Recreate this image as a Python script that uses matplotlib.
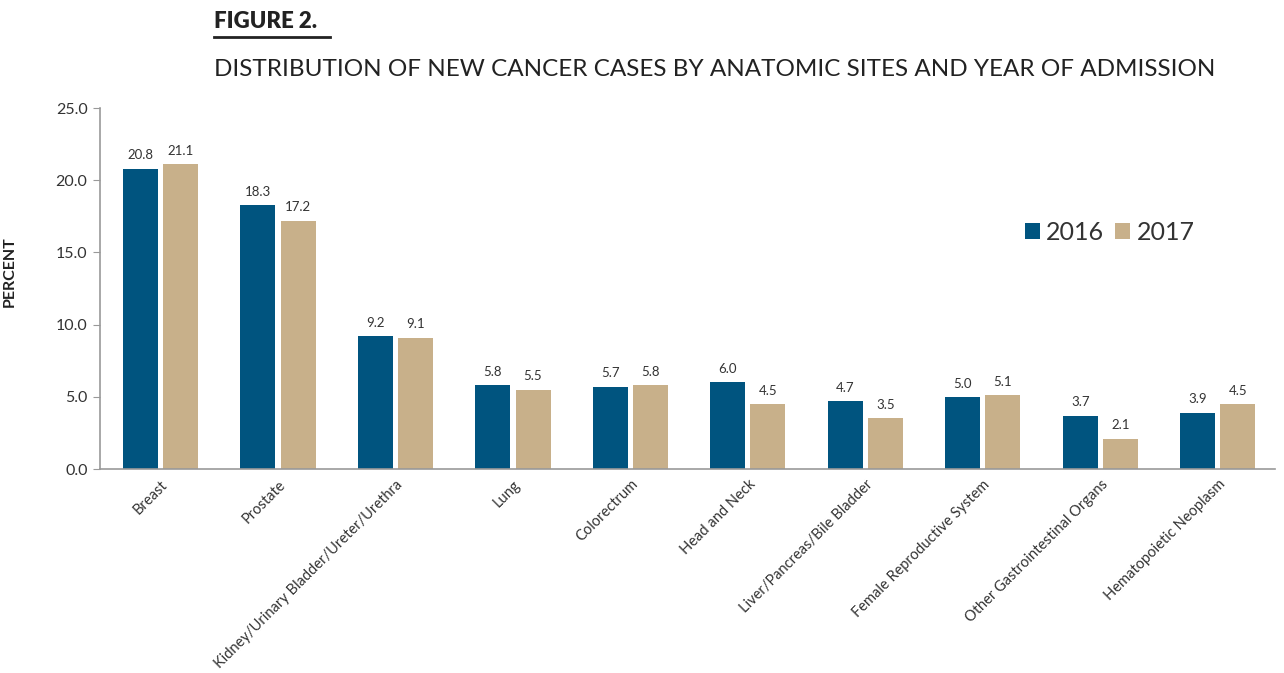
import numpy as np
import matplotlib.pyplot as plt
from matplotlib.lines import Line2D

plt.rcParams["font.family"] = ["Lato", "DejaVu Sans"]

sites = [
    "Breast",
    "Prostate",
    "Kidney/Urinary Bladder/Ureter/Urethra",
    "Lung",
    "Colorectrum",
    "Head and Neck",
    "Liver/Pancreas/Bile Bladder",
    "Female Reproductive System",
    "Other Gastrointestinal Organs",
    "Hematopoietic Neoplasm",
]
pct_2016 = [20.8, 18.3, 9.2, 5.8, 5.7, 6.0, 4.7, 5.0, 3.7, 3.9]
pct_2017 = [21.1, 17.2, 9.1, 5.5, 5.8, 4.5, 3.5, 5.1, 2.1, 4.5]
years = ["2016", "2017"]

c2016 = "#00547f"
c2017 = "#c8b08a"
txt = "#333333"

fig = plt.figure(figsize=(12.84, 6.73), dpi=100)
ax = fig.add_axes([0.0779, 0.3031, 0.915, 0.5364])

x = np.arange(len(sites))
w = 0.298
gap = 0.043
b1 = ax.bar(x - (w + gap) / 2 + 0.015, pct_2016, w, color=c2016, label=years[0])
b2 = ax.bar(x + (w + gap) / 2 + 0.015, pct_2017, w, color=c2017, label=years[1])

for bars, vals in [(b1, pct_2016), (b2, pct_2017)]:
    for r, v in zip(bars, vals):
        ax.text(r.get_x() + r.get_width() / 2, v + 0.5, f"{v:.1f}",
                ha="center", va="bottom", fontsize=9.5, color=txt)

ax.set_xlim(-0.5, len(sites) - 0.5)
ax.set_ylim(0, 25)
ax.set_yticks(np.arange(0, 25.1, 5))
ax.set_yticklabels([f"{v:.1f}" for v in np.arange(0, 25.1, 5)],
                   fontsize=11.5, color=txt)
ax.set_xticks(x + 0.015)
ax.set_xticklabels(sites, rotation=45, ha="right", rotation_mode="anchor",
                   fontsize=10.5, color=txt)
ax.tick_params(axis="x", length=0, pad=6)
ax.tick_params(axis="y", length=5, color="#999999", pad=4)

for s in ["top", "right"]:
    ax.spines[s].set_visible(False)
for s in ["left", "bottom"]:
    ax.spines[s].set_color("#999999")
    ax.spines[s].set_linewidth(1.2)

ax.set_ylabel("PERCENT", fontsize=11.5, fontweight="bold", color="#222222")
ax.yaxis.set_label_coords(-0.0706, 0.546)

ax.legend(loc="upper left", bbox_to_anchor=(0.768, 0.75), frameon=False,
          fontsize=18, handlelength=0.6, handleheight=0.6,
          handletextpad=0.25, columnspacing=0.45, ncol=2, labelcolor=txt)

fig.text(214 / 1284, 1 - 22 / 673, "FIGURE 2.", fontsize=16, fontweight="heavy",
         color="#222222", va="center", ha="left")
fig.add_artist(Line2D([214 / 1284, 330 / 1284], [1 - 37 / 673, 1 - 37 / 673],
                      color="#222222", linewidth=2))
fig.text(214 / 1284, 1 - 69 / 673,
         "DISTRIBUTION OF NEW CANCER CASES BY ANATOMIC SITES AND YEAR OF ADMISSION",
         fontsize=17.5, color="#222222", va="center", ha="left")

plt.savefig("out.png", dpi=100)
